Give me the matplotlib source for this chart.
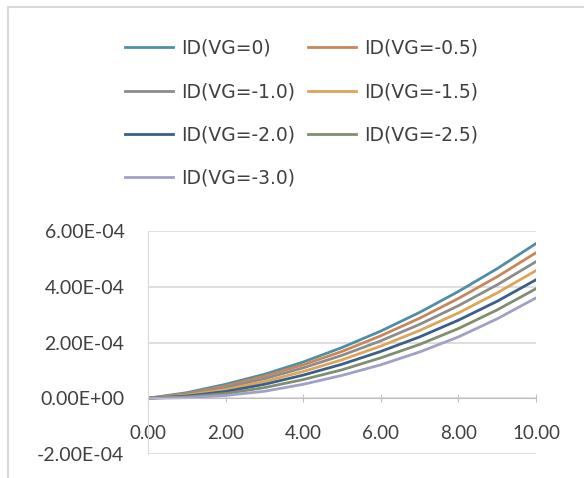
import numpy as np
import matplotlib
matplotlib.use("Agg")
import matplotlib.pyplot as plt
from matplotlib.ticker import FuncFormatter
from matplotlib.patches import Rectangle

# drain voltage (x) and drain current series (units of 1e-4 A)
vd = [0, 1, 2, 3, 4, 5, 6, 7, 8, 9, 10]
labels = ["ID(VG=0)", "ID(VG=-0.5)", "ID(VG=-1.0)", "ID(VG=-1.5)",
          "ID(VG=-2.0)", "ID(VG=-2.5)", "ID(VG=-3.0)"]
id_vg0 = [0, 0.20, 0.50, 0.86, 1.30, 1.82, 2.41, 3.08, 3.83, 4.65, 5.55]
id_vg05 = [0, 0.17, 0.44, 0.79, 1.20, 1.68, 2.24, 2.87, 3.58, 4.36, 5.22]
id_vg10 = [0, 0.14, 0.38, 0.70, 1.09, 1.54, 2.06, 2.65, 3.32, 4.07, 4.90]
id_vg15 = [0, 0.11, 0.31, 0.60, 0.96, 1.38, 1.87, 2.43, 3.06, 3.78, 4.58]
id_vg20 = [0, 0.08, 0.24, 0.50, 0.83, 1.22, 1.68, 2.20, 2.80, 3.48, 4.25]
id_vg25 = [0, 0.05, 0.17, 0.38, 0.67, 1.02, 1.45, 1.93, 2.50, 3.17, 3.93]
id_vg30 = [0, 0.02, 0.10, 0.25, 0.50, 0.82, 1.20, 1.66, 2.20, 2.85, 3.60]
series = [id_vg0, id_vg05, id_vg10, id_vg15, id_vg20, id_vg25, id_vg30]

colors = ["#4E8FA6", "#C8865A", "#8C8C8C", "#DDA55A",
          "#3A5F8A", "#7F8F70", "#A0A0C8"]

plt.rcParams["font.family"] = ["Lato", "DejaVu Sans"]

fig = plt.figure(figsize=(5.84, 4.78), dpi=100)
fig.patch.set_facecolor("white")
fig.patches.append(Rectangle((8 / 584, -0.1), 1.2, 1 - 7 / 478 + 0.1,
                             transform=fig.transFigure, fill=False,
                             edgecolor="#D9D9D9", linewidth=1.5))

ax = fig.add_axes([148 / 584, 1 - 454 / 478, (536 - 148) / 584, (454 - 231) / 478])

handles = []
for vals, lab, col in zip(series, labels, colors):
    y = np.array(vals) * 1e-4
    h, = ax.plot(vd, y, color=col, linewidth=2, label=lab)
    handles.append(h)

ax.set_xlim(0, 10)
ax.set_ylim(-2e-4, 6e-4)
ax.set_xticks([0, 2, 4, 6, 8, 10])
ax.set_yticks([-2e-4, 0, 2e-4, 4e-4, 6e-4])
ax.xaxis.set_major_formatter(FuncFormatter(lambda v, p: f"{v:.2f}"))
ax.yaxis.set_major_formatter(FuncFormatter(lambda v, p: f"{v:.2E}"))
ax.grid(axis="y", color="#D9D9D9", linewidth=1.2)
ax.set_axisbelow(True)

for s in ["top", "right"]:
    ax.spines[s].set_visible(False)
ax.spines["bottom"].set_position(("data", 0))
ax.spines["bottom"].set_color("#BFBFBF")
ax.spines["left"].set_color("#D9D9D9")
ax.tick_params(axis="x", direction="inout", length=6, color="#BFBFBF",
               labelsize=13.5, pad=16, labelcolor="#404040")
ax.tick_params(axis="y", length=0, labelsize=14, pad=17, labelcolor="#404040")

# legend is filled row by row in the reference, matplotlib fills by column
order = [0, 2, 4, 6, 1, 3, 5]
fig.legend(handles=[handles[i] for i in order], labels=[labels[i] for i in order],
           loc="upper left", bbox_to_anchor=(108 / 584, 1 - 22 / 478),
           ncol=2, frameon=False, prop={"family": "DejaVu Sans", "size": 13.5},
           handlelength=2.55, handletextpad=0.45, columnspacing=0.7,
           labelspacing=1.3, labelcolor="#404040")

fig.savefig("out.png", dpi=100, facecolor="white")
